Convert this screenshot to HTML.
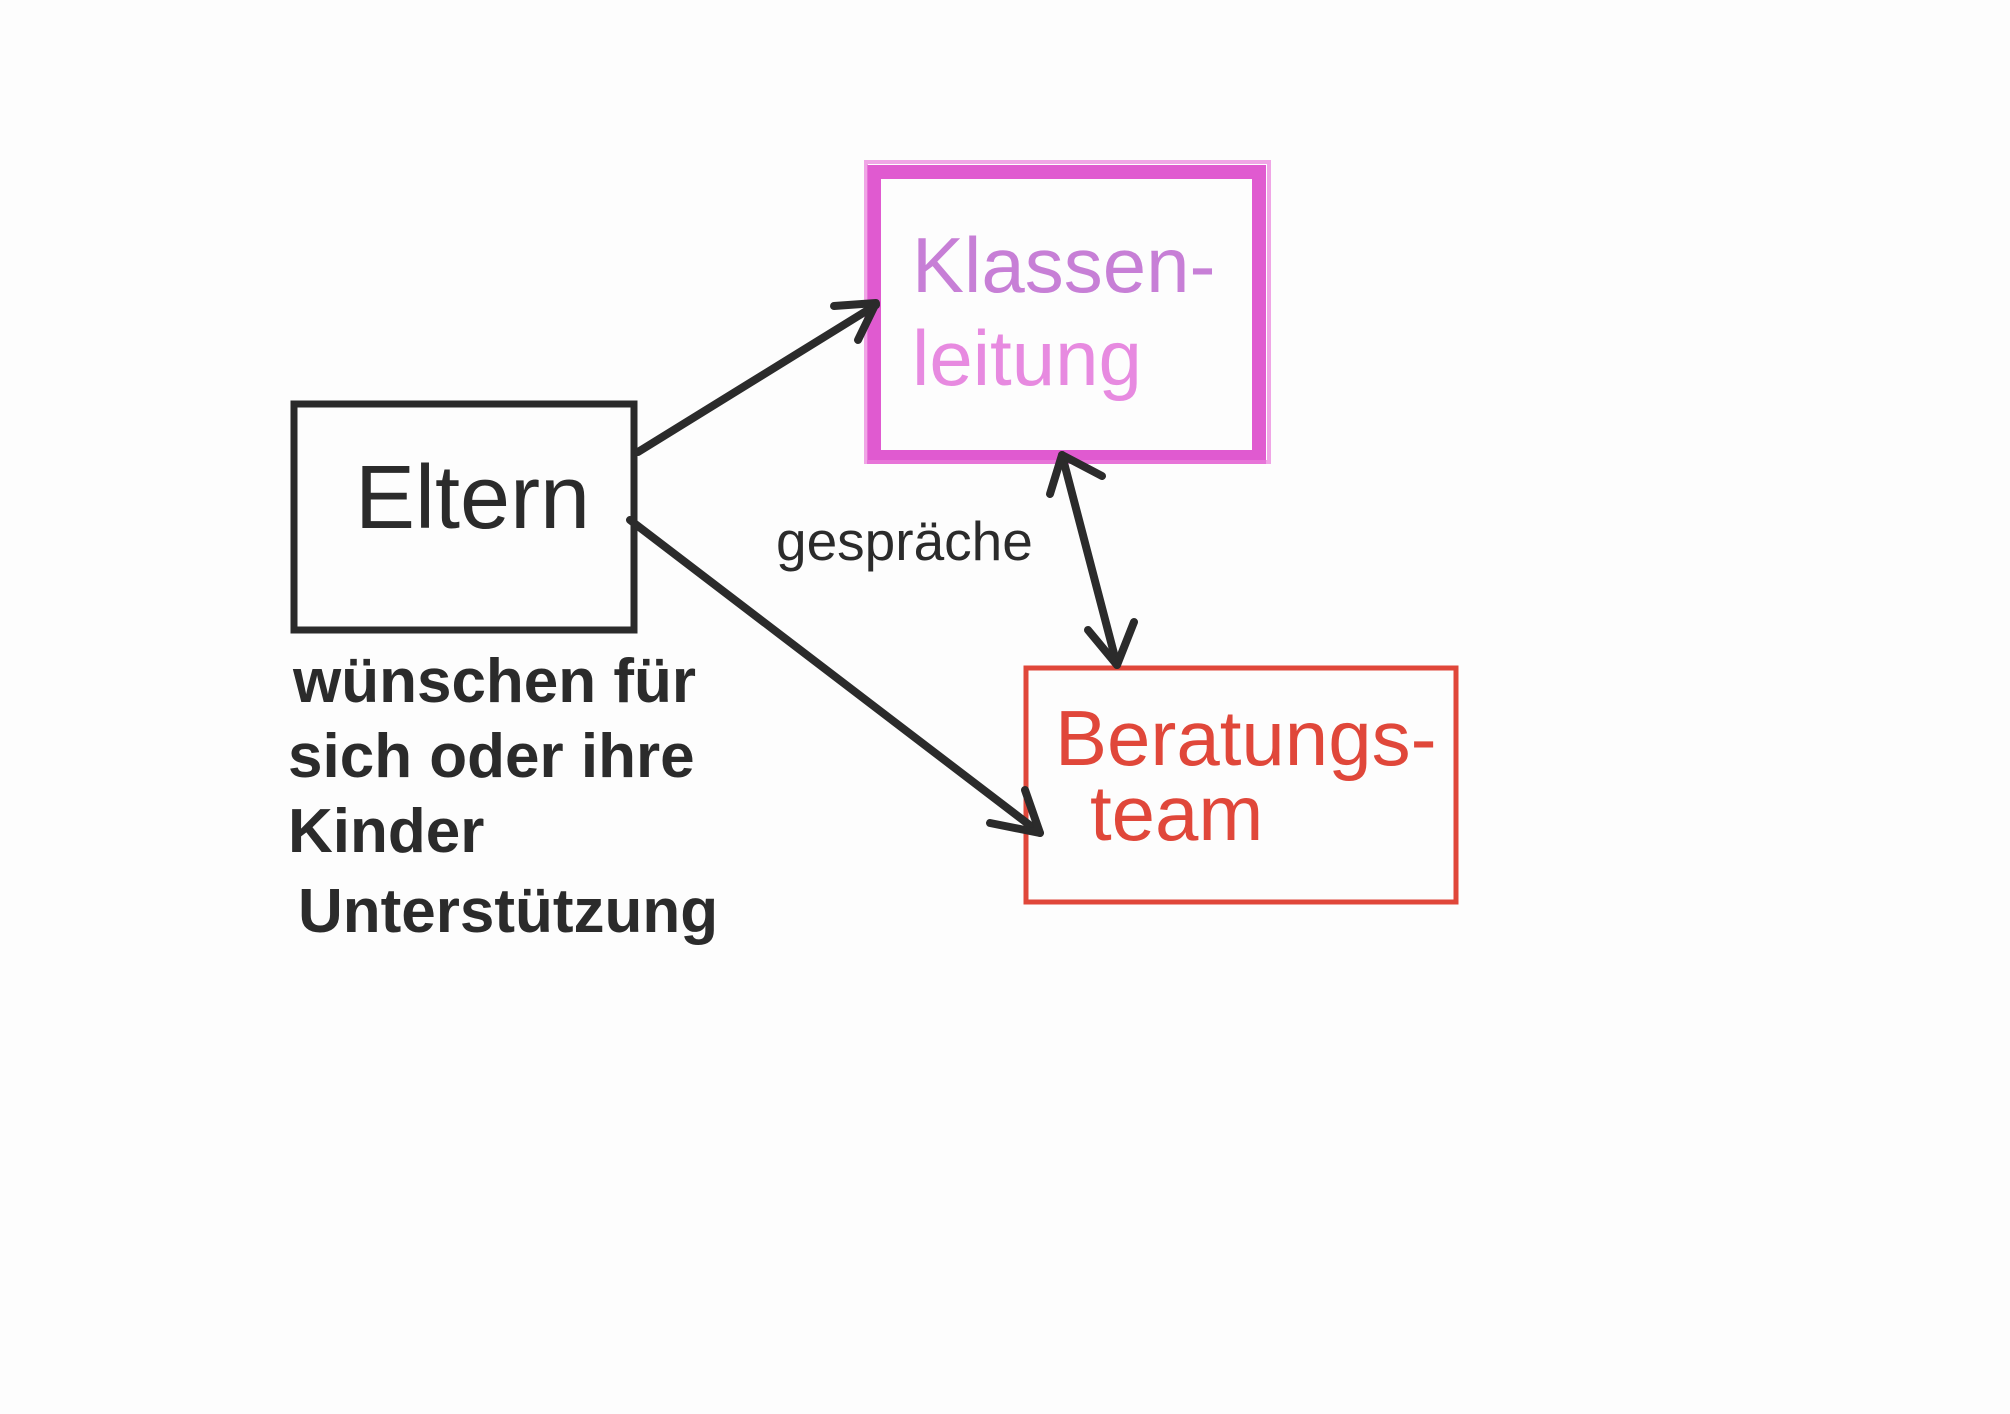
<!DOCTYPE html>
<html><head><meta charset="utf-8"><style>
html,body{margin:0;padding:0;background:#fdfdfd;}
svg{display:block}
text{font-family:"Liberation Sans",sans-serif;}
</style></head><body>
<svg width="2010" height="1414" viewBox="0 0 2010 1414" xmlns="http://www.w3.org/2000/svg">
<rect width="2010" height="1414" fill="#fdfdfd"/>
<!-- Eltern box -->
<rect x="294" y="404" width="340" height="226" fill="none" stroke="#2b2b2b" stroke-width="7"/>
<text x="355" y="528" font-size="90" fill="#2b2b2b">Eltern</text>
<!-- Klassenleitung box -->
<rect x="874" y="172" width="385" height="285" fill="none" stroke="#e05ad0" stroke-width="14"/>
<rect x="866" y="162" width="403" height="300" fill="none" stroke="#ea7fdc" stroke-width="4" opacity="0.7"/>
<text x="912" y="292" font-size="78" fill="#c77fd6">Klassen-</text>
<text x="912" y="385" font-size="78" fill="#e78ae0">leitung</text>
<!-- Beratungsteam box -->
<rect x="1026" y="668" width="430" height="234" fill="none" stroke="#e0473a" stroke-width="5"/>
<text x="1055" y="765" font-size="78" fill="#e0473a">Beratungs-</text>
<text x="1090" y="840" font-size="78" fill="#e0473a">team</text>
<!-- arrows -->
<g stroke="#2b2b2b" stroke-width="8" fill="none" stroke-linecap="round" stroke-linejoin="round">
<line x1="638" y1="452" x2="876" y2="305"/>
<polyline points="834,306 876,303 858,340"/>
<line x1="630" y1="520" x2="1040" y2="833"/>
<polyline points="990,823 1040,833 1025,790"/>
<line x1="1062" y1="455" x2="1117" y2="665"/>
<polyline points="1050,494 1062,455 1102,476"/>
<polyline points="1088,630 1117,665 1134,622"/>
</g>
<text x="776" y="560" font-size="55" fill="#2b2b2b">gespräche</text>
<g font-size="62" fill="#2b2b2b" font-weight="bold">
<text x="293" y="702">wünschen für</text>
<text x="288" y="777">sich oder ihre</text>
<text x="288" y="852">Kinder</text>
<text x="298" y="932">Unterstützung</text>
</g>
</svg>
</body></html>
